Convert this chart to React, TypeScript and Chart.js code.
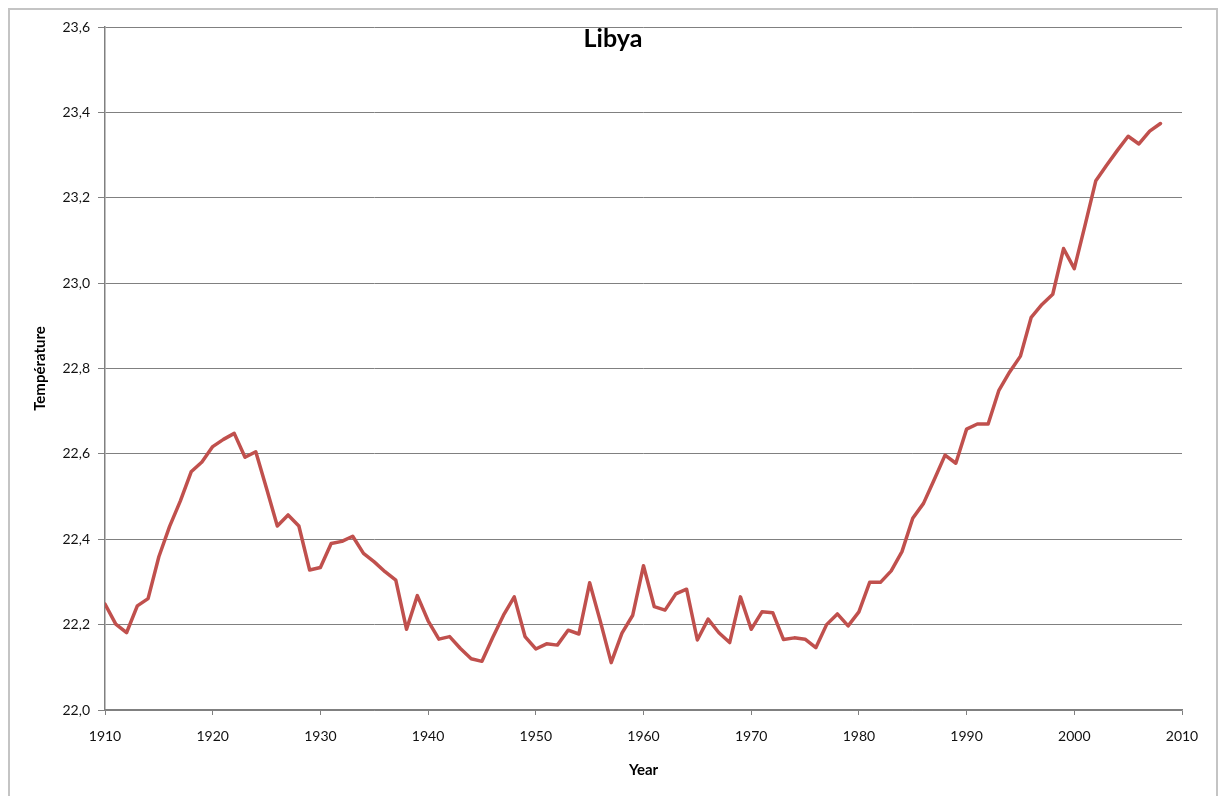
import React, { useEffect, useRef } from "react";
import { Chart, registerables } from "chart.js";

Chart.register(...registerables);

// Annual mean temperature for Libya, one value per year starting at FIRST_YEAR
const FIRST_YEAR = 1910;
const temperatures: number[] = [
  22.248, 22.201, 22.181, 22.244, 22.261, 22.359, 22.43, 22.49, 22.558, 22.581, // 1910-1919
  22.617, 22.634, 22.648, 22.592, 22.605, 22.519, 22.431, 22.457, 22.431, 22.328, // 1920-1929
  22.334, 22.39, 22.395, 22.407, 22.367, 22.347, 22.324, 22.304, 22.189, 22.268, // 1930-1939
  22.209, 22.166, 22.172, 22.144, 22.12, 22.114, 22.17, 22.222, 22.265, 22.172, // 1940-1949
  22.143, 22.155, 22.152, 22.187, 22.178, 22.298, 22.207, 22.111, 22.18, 22.222, // 1950-1959
  22.338, 22.242, 22.234, 22.272, 22.283, 22.164, 22.213, 22.181, 22.158, 22.265, // 1960-1969
  22.189, 22.23, 22.228, 22.165, 22.169, 22.166, 22.146, 22.2, 22.225, 22.197, // 1970-1979
  22.23, 22.299, 22.299, 22.326, 22.371, 22.449, 22.484, 22.54, 22.597, 22.578, // 1980-1989
  22.658, 22.67, 22.67, 22.749, 22.792, 22.829, 22.92, 22.95, 22.974, 23.081, // 1990-1999
  23.034, 23.136, 23.24, 23.276, 23.311, 23.344, 23.326, 23.356, 23.374, // 2000-2008
];

const xMin = 1910;
const xMax = 2010;
const xStep = 10;
const yMin = 22.0;
const yMax = 23.6;
const yStep = 0.2;

const chartTitle = "Libya";
const xTitle = "Year";
const yTitle = "Température";

const FONT = "Lato, 'Open Sans', sans-serif";
const GRID = "#808080";
const LINE = "#C0504D";

// Chart title sits inside the plot area, just under the top gridline
const titlePlugin = {
  id: "insideTitle",
  afterDatasetsDraw(chart: Chart) {
    const { ctx, width } = chart;
    ctx.save();
    ctx.font = `bold 25px ${FONT}`;
    ctx.fillStyle = "#000000";
    ctx.textAlign = "center";
    ctx.textBaseline = "alphabetic";
    ctx.fillText(chartTitle, width / 2, 37);
    ctx.restore();
  },
};

export default function App() {
  const canvasRef = useRef<HTMLCanvasElement | null>(null);

  useEffect(() => {
    const canvas = canvasRef.current;
    if (!canvas) return;
    const points = temperatures.map((t, i) => ({ x: FIRST_YEAR + i, y: t }));
    const chart = new Chart(canvas, {
      type: "line",
      data: {
        datasets: [
          {
            label: yTitle,
            data: points,
            borderColor: LINE,
            backgroundColor: LINE,
            borderWidth: 3.5,
            pointRadius: 0,
            tension: 0,
            borderJoinStyle: "round",
            borderCapStyle: "round",
          },
        ],
      },
      options: {
        responsive: false,
        animation: false,
        devicePixelRatio: 1,
        layout: { padding: { top: 17, right: 34, left: 0, bottom: 0 } },
        plugins: {
          legend: { display: false },
          title: { display: false },
          tooltip: { enabled: false },
        },
        scales: {
          x: {
            type: "linear",
            min: xMin,
            max: xMax,
            afterFit(scale: any) {
              scale.height = 100;
            },
            ticks: {
              stepSize: xStep,
              padding: 13,
              color: "#111111",
              font: { family: FONT, size: 14 },
              maxRotation: 0,
              callback: (v: any) => String(v),
            },
            grid: {
              drawOnChartArea: false,
              drawTicks: true,
              tickLength: 5,
              color: GRID,
              lineWidth: 1,
            },
            border: { display: true, color: GRID, width: 1.5 },
            title: {
              display: true,
              text: xTitle,
              color: "#000000",
              font: { family: FONT, size: 15, weight: "bold" },
              padding: { top: 0, bottom: 31 },
            },
          },
          y: {
            type: "linear",
            min: yMin,
            max: yMax,
            afterFit(scale: any) {
              scale.width = 95;
            },
            ticks: {
              stepSize: yStep,
              padding: 8,
              color: "#111111",
              font: { family: FONT, size: 14 },
              callback: (v: any) => Number(v).toFixed(1).replace(".", ","),
            },
            grid: {
              drawOnChartArea: true,
              drawTicks: true,
              tickLength: 7,
              color: GRID,
              lineWidth: 1,
            },
            border: { display: true, color: GRID, width: 1.5 },
            title: {
              display: true,
              text: yTitle,
              color: "#000000",
              font: { family: FONT, size: 15, weight: "bold" },
              padding: { top: 21, bottom: 0 },
            },
          },
        },
      },
      plugins: [titlePlugin],
    });
    return () => chart.destroy();
  }, []);

  return (
    <div
      style={{
        position: "fixed",
        top: 8,
        left: 8,
        width: 1210,
        height: 820,
        boxSizing: "border-box",
        border: "2px solid #c4c4c4",
        background: "#ffffff",
        overflow: "hidden",
      }}
    >
      <canvas ref={canvasRef} width={1206} height={800} style={{ display: "block" }} />
    </div>
  );
}
